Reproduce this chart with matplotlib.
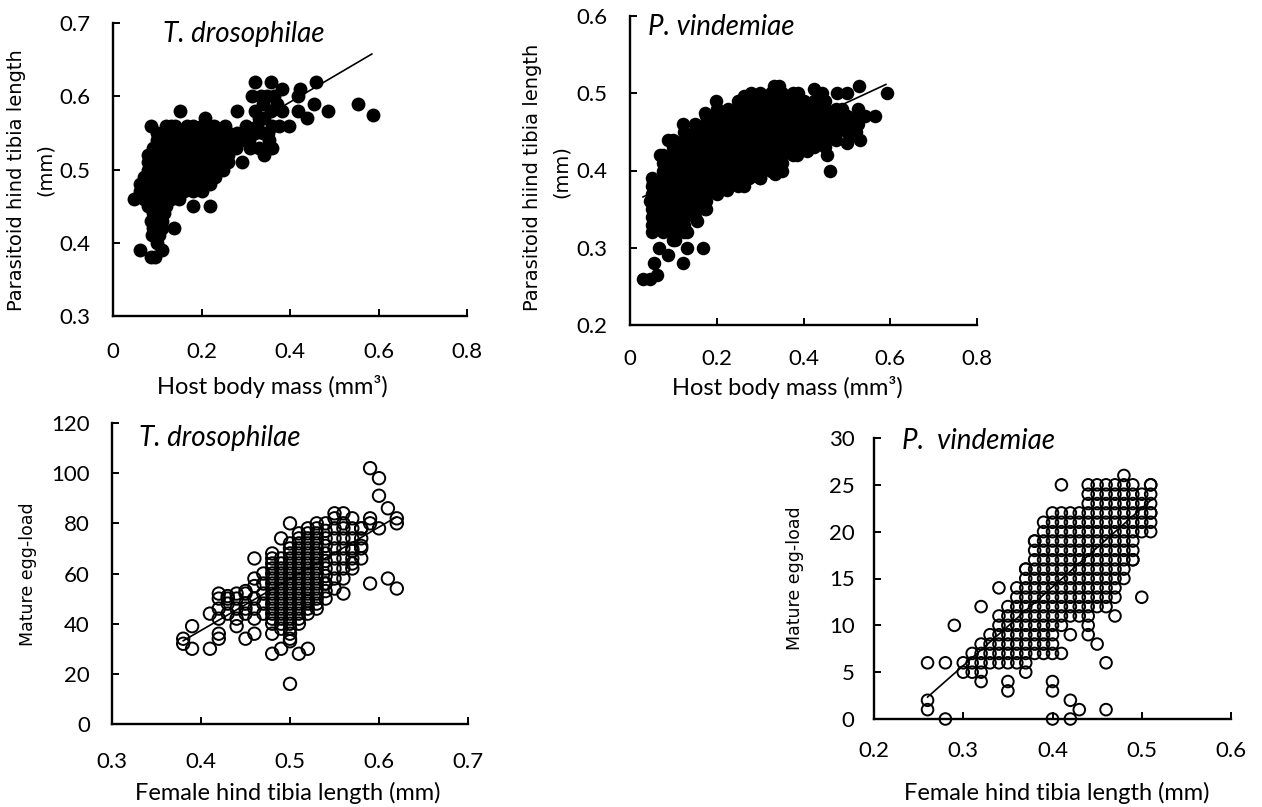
import numpy as np
import matplotlib
matplotlib.use("Agg")
import matplotlib.pyplot as plt

# ---- data ----
# T. drosophilae: host body mass (mm3) vs parasitoid hind tibia length (mm), rows by tibia length
td_host_rows = [
    (0.62, [0.322, 0.356, 0.458]),
    (0.61, [0.383, 0.423]),
    (0.60, [0.315, 0.334, 0.349, 0.364, 0.417]),
    (0.59, [0.34, 0.37, 0.455, 0.554]),
    (0.58, [0.151, 0.281, 0.32, 0.356, 0.383, 0.417, 0.485]),
    (0.575, [0.587]),
    (0.57, [0.208, 0.33, 0.341, 0.438]),
    (0.56, [0.085, 0.12, 0.13, 0.14, 0.168, 0.18, 0.20, 0.228, 0.254, 0.30, 0.326, 0.36, 0.375, 0.398]),
    (0.55, [0.10, 0.12, 0.14, 0.16, 0.18, 0.20, 0.22, 0.24, 0.26, 0.28, 0.304, 0.32, 0.34, 0.35]),
    (0.54, [0.10, 0.12, 0.14, 0.16, 0.18, 0.20, 0.22, 0.24, 0.254, 0.26, 0.29, 0.307, 0.353]),
    (0.53, [0.09, 0.11, 0.13, 0.15, 0.17, 0.19, 0.21, 0.23, 0.25, 0.27, 0.277, 0.31, 0.33, 0.36]),
    (0.52, [0.08, 0.085, 0.10, 0.12, 0.14, 0.16, 0.18, 0.20, 0.22, 0.24, 0.247, 0.26, 0.341]),
    (0.51, [0.08, 0.10, 0.12, 0.14, 0.16, 0.18, 0.20, 0.22, 0.24, 0.26, 0.292]),
    (0.50, [0.08, 0.092, 0.10, 0.12, 0.14, 0.16, 0.18, 0.20, 0.22, 0.24, 0.249]),
    (0.49, [0.07, 0.09, 0.11, 0.13, 0.15, 0.17, 0.19, 0.21, 0.23]),
    (0.48, [0.06, 0.069, 0.08, 0.10, 0.12, 0.14, 0.16, 0.18, 0.20, 0.22]),
    (0.47, [0.062, 0.08, 0.10, 0.12, 0.14, 0.16, 0.18, 0.20]),
    (0.46, [0.047, 0.07, 0.09, 0.11, 0.13, 0.15]),
    (0.45, [0.08, 0.10, 0.12, 0.181, 0.220]),
    (0.44, [0.09, 0.115]),
    (0.43, [0.085, 0.11]),
    (0.42, [0.09, 0.11, 0.137]),
    (0.41, [0.088, 0.103]),
    (0.40, [0.10]),
    (0.39, [0.060, 0.111]),
    (0.38, [0.085, 0.096]),
]
td_host_fit = (0.450, 0.355)      # intercept, slope
td_host_fit_range = (0.05, 0.585)

# P. vindemiae: host body mass vs tibia length
pv_host_pts = [
    (0.029, 0.26), (0.045, 0.26), (0.063, 0.265), (0.056, 0.28), (0.068, 0.30), (0.088, 0.29),
    (0.123, 0.28), (0.131, 0.30), (0.169, 0.30), (0.050, 0.32), (0.104, 0.31), (0.131, 0.32),
    (0.173, 0.35), (0.154, 0.335), (0.045, 0.36), (0.054, 0.385), (0.069, 0.42), (0.088, 0.44),
    (0.123, 0.46), (0.173, 0.475), (0.198, 0.49), (0.262, 0.497), (0.28, 0.50), (0.331, 0.51),
    (0.344, 0.51), (0.388, 0.50), (0.425, 0.505), (0.442, 0.50), (0.477, 0.50), (0.50, 0.50),
    (0.527, 0.51), (0.592, 0.50), (0.565, 0.47), (0.542, 0.47), (0.488, 0.48), (0.508, 0.445),
    (0.50, 0.435), (0.461, 0.40), (0.454, 0.42), (0.408, 0.425), (0.385, 0.42), (0.335, 0.395),
    (0.30, 0.39), (0.262, 0.38), (0.223, 0.375), (0.346, 0.41), (0.52, 0.45), (0.53, 0.44),
]
pv_host_cols = [
    (0.05, [0.33, 0.34, 0.35, 0.36, 0.37, 0.38, 0.39]),
    (0.075, [0.32, 0.33, 0.34, 0.35, 0.36, 0.37, 0.38, 0.39, 0.40, 0.41, 0.42]),
    (0.10, [0.31, 0.32, 0.33, 0.34, 0.35, 0.36, 0.37, 0.38, 0.39, 0.40, 0.41, 0.42, 0.43, 0.44]),
    (0.125, [0.32, 0.33, 0.34, 0.35, 0.36, 0.37, 0.38, 0.39, 0.40, 0.41, 0.42, 0.43, 0.44, 0.45]),
    (0.15, [0.34, 0.35, 0.36, 0.37, 0.38, 0.39, 0.40, 0.41, 0.42, 0.43, 0.44, 0.45, 0.46]),
    (0.175, [0.35, 0.36, 0.37, 0.38, 0.39, 0.40, 0.41, 0.42, 0.43, 0.44, 0.45, 0.46, 0.47]),
    (0.20, [0.37, 0.38, 0.39, 0.40, 0.41, 0.42, 0.43, 0.44, 0.45, 0.46, 0.47, 0.48]),
    (0.225, [0.38, 0.39, 0.40, 0.41, 0.42, 0.43, 0.44, 0.45, 0.46, 0.47, 0.48]),
    (0.25, [0.38, 0.39, 0.40, 0.41, 0.42, 0.43, 0.44, 0.45, 0.46, 0.47, 0.48, 0.49]),
    (0.275, [0.39, 0.40, 0.41, 0.42, 0.43, 0.44, 0.45, 0.46, 0.47, 0.48, 0.49]),
    (0.30, [0.39, 0.40, 0.41, 0.42, 0.43, 0.44, 0.45, 0.46, 0.47, 0.48, 0.49, 0.50]),
    (0.325, [0.40, 0.41, 0.42, 0.43, 0.44, 0.45, 0.46, 0.47, 0.48, 0.49, 0.50]),
    (0.35, [0.40, 0.41, 0.42, 0.43, 0.44, 0.45, 0.46, 0.47, 0.48, 0.49, 0.50]),
    (0.375, [0.42, 0.43, 0.44, 0.45, 0.46, 0.47, 0.48, 0.49, 0.50]),
    (0.40, [0.43, 0.44, 0.45, 0.46, 0.47, 0.48, 0.49]),
    (0.425, [0.43, 0.44, 0.45, 0.46, 0.47, 0.48, 0.49]),
    (0.45, [0.43, 0.44, 0.45, 0.46, 0.47, 0.48, 0.49]),
    (0.475, [0.44, 0.45, 0.46, 0.47, 0.48]),
    (0.50, [0.45, 0.46, 0.47]),
    (0.525, [0.46, 0.47, 0.48]),
]
pv_host_fit = (0.358, 0.26)
pv_host_fit_range = (0.03, 0.59)

# T. drosophilae: female hind tibia length vs mature egg-load
td_egg_pts = [
    (0.38, 34), (0.38, 32), (0.39, 39), (0.39, 30), (0.41, 30), (0.41, 44), (0.42, 52), (0.42, 50),
    (0.42, 42), (0.42, 36), (0.42, 34), (0.43, 50), (0.43, 51), (0.44, 42), (0.44, 39), (0.45, 34),
    (0.45, 53), (0.46, 66), (0.46, 58), (0.46, 55), (0.46, 42), (0.46, 36), (0.45, 46), (0.48, 68),
    (0.48, 36), (0.48, 28), (0.49, 30), (0.50, 80), (0.50, 16), (0.50, 34), (0.50, 33), (0.51, 28),
    (0.52, 30), (0.49, 74), (0.55, 84), (0.56, 84), (0.57, 82), (0.59, 102), (0.60, 98), (0.60, 91),
    (0.61, 86), (0.62, 82), (0.62, 80), (0.61, 58), (0.62, 54), (0.59, 56), (0.56, 52), (0.57, 69),
    (0.58, 71), (0.57, 64), (0.59, 82), (0.59, 80), (0.60, 78), (0.58, 78), (0.54, 56), (0.52, 44),
    (0.52, 49), (0.42, 46), (0.43, 44), (0.43, 48), (0.44, 46), (0.44, 50), (0.45, 44), (0.45, 48),
    (0.46, 46), (0.46, 50), (0.44, 52), (0.45, 52), (0.49, 38),
]
td_egg_cols = [
    (0.47, [44, 48, 52, 56, 60]),
    (0.48, [40, 42, 44, 46, 48, 50, 52, 54, 56, 58, 60, 62, 64, 66]),
    (0.49, [40, 42, 44, 46, 48, 50, 52, 54, 56, 58, 60, 62, 64, 66]),
    (0.50, [36, 38, 40, 42, 44, 46, 48, 50, 52, 54, 56, 58, 60, 62, 64, 66, 68, 70, 72]),
    (0.51, [40, 42, 44, 46, 48, 50, 52, 54, 56, 58, 60, 62, 64, 66, 68, 70, 72, 74, 76]),
    (0.52, [46, 48, 50, 52, 54, 56, 58, 60, 62, 64, 66, 68, 70, 72, 74, 76, 78]),
    (0.53, [46, 48, 50, 52, 54, 56, 58, 60, 62, 64, 66, 68, 70, 72, 74, 76, 78, 80]),
    (0.54, [50, 53, 56, 59, 62, 65, 68, 71, 74, 77, 80]),
    (0.55, [54, 58, 62, 66, 70, 74, 78, 82]),
    (0.56, [58, 62, 66, 70, 74, 78, 80]),
    (0.57, [62, 66, 70, 74, 78]),
    (0.58, [66, 70, 74, 78]),
]
td_egg_fit = (-45.1, 206.0)
td_egg_fit_range = (0.38, 0.62)

# P. vindemiae: female hind tibia length vs mature egg-load
pv_egg_pts = [
    (0.26, 1), (0.26, 2), (0.28, 0), (0.26, 6), (0.28, 6), (0.30, 6), (0.29, 10), (0.30, 5),
    (0.32, 12), (0.34, 14), (0.35, 4), (0.35, 3), (0.40, 4), (0.40, 3), (0.40, 0), (0.42, 0),
    (0.42, 2), (0.43, 1), (0.46, 1), (0.46, 6), (0.45, 8), (0.44, 9), (0.44, 10), (0.47, 11),
    (0.50, 13), (0.41, 25), (0.48, 26), (0.51, 25), (0.51, 22), (0.49, 17), (0.42, 9), (0.41, 7),
    (0.37, 5), (0.38, 19), (0.37, 16),
]
pv_egg_cols = [
    (0.31, [5, 6, 7]),
    (0.32, [4, 5, 6, 7, 8]),
    (0.33, [6, 7, 8, 9]),
    (0.34, [6, 7, 8, 9, 10, 11]),
    (0.35, [6, 7, 8, 9, 10, 11, 12]),
    (0.36, [6, 7, 8, 9, 10, 11, 12, 13, 14]),
    (0.37, [6, 7, 8, 9, 10, 11, 12, 13, 14, 15, 16]),
    (0.38, [7, 8, 9, 10, 11, 12, 13, 14, 15, 16, 17, 18, 19]),
    (0.39, [7, 8, 9, 10, 11, 12, 13, 14, 15, 16, 17, 18, 19, 20, 21]),
    (0.40, [7, 8, 9, 10, 11, 12, 13, 14, 15, 16, 17, 18, 19, 20, 21, 22]),
    (0.41, [10, 11, 12, 13, 14, 15, 16, 17, 18, 19, 20, 21, 22]),
    (0.42, [11, 12, 13, 14, 15, 16, 17, 18, 19, 20, 21, 22]),
    (0.43, [11, 12, 13, 14, 15, 16, 17, 18, 19, 20, 21, 22]),
    (0.44, [11, 12, 13, 14, 15, 16, 17, 18, 19, 20, 21, 22, 23, 24, 25]),
    (0.45, [12, 13, 14, 15, 16, 17, 18, 19, 20, 21, 22, 23, 24, 25]),
    (0.46, [12, 13, 14, 15, 16, 17, 18, 19, 20, 21, 22, 23, 24, 25]),
    (0.47, [13, 14, 15, 16, 17, 18, 19, 20, 21, 22, 23, 24, 25]),
    (0.48, [15, 16, 17, 18, 19, 20, 21, 22, 23, 24, 25]),
    (0.49, [17, 18, 19, 20, 21, 22, 23, 24, 25]),
    (0.50, [20, 21, 22, 23, 24]),
    (0.51, [20, 21, 22, 23, 24, 25]),
]
pv_egg_fit = (-19.5, 84.0)
pv_egg_fit_range = (0.26, 0.51)


def rows_to_xy(rows, by_row=True):
    xs, ys = [], []
    for key, vals in rows:
        for v in vals:
            if by_row:
                xs.append(v); ys.append(key)
            else:
                xs.append(key); ys.append(v)
    return xs, ys


W, H = 1262, 807
fig = plt.figure(figsize=(W / 100, H / 100), dpi=100)
TICKFONT = "Lato"


def box(x0, y0, x1, y1):
    return [x0 / W, 1 - y1 / H, (x1 - x0) / W, (y1 - y0) / H]


def ftext(x, y, s, **kw):
    fig.text(x / W, 1 - y / H, s, ha="center", va="center", **kw)


def style(ax, xlim, ylim, xticks, yticks, xlabels, ylabels, xpad, ypad):
    ax.set_xlim(xlim)
    ax.set_ylim(ylim)
    ax.set_xticks(xticks)
    ax.set_yticks(yticks)
    ax.set_xticklabels(xlabels, fontfamily=TICKFONT, fontsize=16)
    ax.set_yticklabels(ylabels, fontfamily=TICKFONT, fontsize=16)
    for s in ["top", "right"]:
        ax.spines[s].set_visible(False)
    for s in ["left", "bottom"]:
        ax.spines[s].set_linewidth(1.7)
    ax.tick_params(direction="in", length=5, width=1.4)
    ax.tick_params(axis="x", pad=xpad)
    ax.tick_params(axis="y", pad=ypad)


def fit_line(ax, fit, xr):
    xx = np.array(xr)
    ax.plot(xx, fit[0] + fit[1] * xx, color="black", lw=1.2, zorder=4)


def title(ax, x, y, s):
    ax.text(x, y, s, transform=ax.transAxes, style="italic", fontfamily=TICKFONT,
            fontsize=20, va="center")


# --- top left ---
ax1 = fig.add_axes(box(113, 23, 467, 316))
x, y = rows_to_xy(td_host_rows)
ax1.scatter(x, y, s=100, color="black", linewidths=0, zorder=3, clip_on=False)
fit_line(ax1, td_host_fit, td_host_fit_range)
style(ax1, (0, 0.8), (0.3, 0.7), [0, 0.2, 0.4, 0.6, 0.8], [0.3, 0.4, 0.5, 0.6, 0.7],
      ["0", "0.2", "0.4", "0.6", "0.8"], ["0.3", "0.4", "0.5", "0.6", "0.7"], 19, 16)
title(ax1, 0.142, 0.962, "T. drosophilae")

# --- top right ---
ax2 = fig.add_axes(box(630, 16, 977, 325))
x, y = rows_to_xy(pv_host_cols, by_row=False)
px, py = zip(*pv_host_pts)
ax2.scatter(list(x) + list(px), list(y) + list(py), s=95, color="black", linewidths=0,
            zorder=3, clip_on=False)
fit_line(ax2, pv_host_fit, pv_host_fit_range)
style(ax2, (0, 0.8), (0.2, 0.6), [0, 0.2, 0.4, 0.6, 0.8], [0.2, 0.3, 0.4, 0.5, 0.6],
      ["0", "0.2", "0.4", "0.6", "0.8"], ["0.2", "0.3", "0.4", "0.5", "0.6"], 17, 16)
title(ax2, 0.052, 0.963, "P. vindemiae")

# --- bottom left ---
ax3 = fig.add_axes(box(112, 423, 468, 724))
x, y = rows_to_xy(td_egg_cols, by_row=False)
px, py = zip(*td_egg_pts)
ax3.scatter(list(x) + list(px), list(y) + list(py), s=80, facecolors="none",
            edgecolors="black", linewidths=1.4, zorder=3, clip_on=False)
fit_line(ax3, td_egg_fit, td_egg_fit_range)
style(ax3, (0.3, 0.7), (0, 120), [0.3, 0.4, 0.5, 0.6, 0.7], [0, 20, 40, 60, 80, 100, 120],
      ["0.3", "0.4", "0.5", "0.6", "0.7"], ["0", "20", "40", "60", "80", "100", "120"], 20, 16)
title(ax3, 0.075, 0.95, "T. drosophilae")

# --- bottom right ---
ax4 = fig.add_axes(box(874, 438, 1231, 719))
x, y = rows_to_xy(pv_egg_cols, by_row=False)
px, py = zip(*pv_egg_pts)
ax4.scatter(list(x) + list(px), list(y) + list(py), s=70, facecolors="none",
            edgecolors="black", linewidths=1.4, zorder=3, clip_on=False)
fit_line(ax4, pv_egg_fit, pv_egg_fit_range)
style(ax4, (0.2, 0.6), (0, 30), [0.2, 0.3, 0.4, 0.5, 0.6], [0, 5, 10, 15, 20, 25, 30],
      ["0.2", "0.3", "0.4", "0.5", "0.6"], ["0", "5", "10", "15", "20", "25", "30"], 16, 14)
title(ax4, 0.078, 0.99, "P.  vindemiae")

# --- axis titles ---
ylab = dict(rotation=90, fontfamily="DejaVu Sans", fontsize=14)
elab = dict(rotation=90, fontfamily="DejaVu Sans", fontsize=12.5)
xlab = dict(fontfamily=TICKFONT, fontsize=17)
ftext(17, 180, "Parasitoid hind tibia length", **ylab)
ftext(45, 170, "(mm)", **ylab)
ftext(533, 177, "Parasitoid hiind tibia length", **ylab)
ftext(561, 172, "(mm)", **ylab)
ftext(28, 574, "Mature egg-load", **elab)
ftext(795, 578, "Mature egg-load", **elab)
ftext(272, 387, "Host body mass (mm³)", **xlab)
ftext(787, 388, "Host body mass (mm³)", **xlab)
ftext(288, 793, "Female hind tibia length (mm)", **xlab)
ftext(1057, 793, "Female hind tibia length (mm)", **xlab)

fig.savefig("out.png", dpi=100)
